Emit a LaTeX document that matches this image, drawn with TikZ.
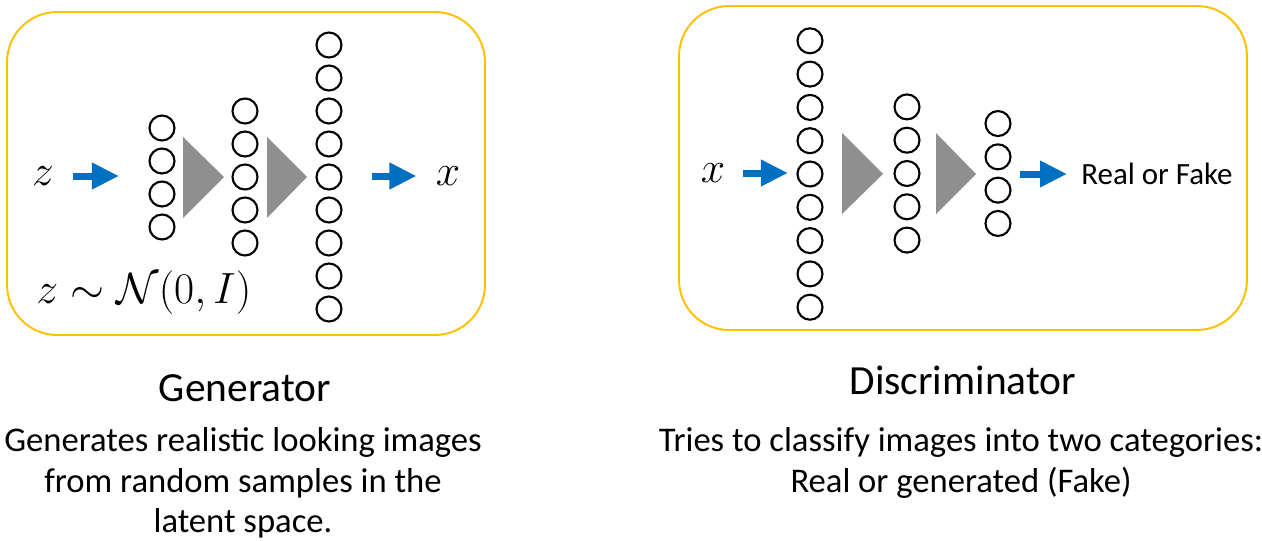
\documentclass[tikz,border=0pt]{standalone}
\usepackage{amsmath}
\usepackage{fontspec}
\setmainfont{Carlito}
\usepackage{xcolor}
\usetikzlibrary{arrows.meta}
\usetikzlibrary{positioning}
\definecolor{myblue}{HTML}{0070C0}
\definecolor{mygold}{HTML}{FFC000}
\definecolor{mygray}{HTML}{8F8F8F}
\tikzset{
  myneuron/.style={
    draw=black,
    shape=circle,
    line width=1.2pt,
    inner sep=0pt,
    minimum size=0.5cm,
  },
  mypanel/.style={
    draw=mygold,
    shape=rectangle,
    line width=1.1pt,
    rounded corners=1cm,
    inner sep=0pt,
  },
  myarrow/.style={
    draw=myblue,
    line width=0.14cm,
    -{Triangle[length=0.54cm,width=0.5cm]},
  },
  mylayer/.style={
    fill=mygray,
  },
  mymath/.style={
    inner sep=0pt,
    font=\fontsize{23.5}{28}\selectfont,
  },
  mytitle/.style={
    inner sep=0pt,
    anchor=base,
    font=\fontsize{23.6}{28}\selectfont,
  },
  mytext/.style={
    inner sep=0pt,
    anchor=north,
    align=center,
    font=\fontsize{19.7}{23.2}\selectfont,
  }
}

\begin{document}
\begin{tikzpicture}[x=0.02cm, y=-0.02cm]
    \useasboundingbox (0,0) rectangle (1262,541);

    % Generator
    \node [mypanel, minimum width=9.56cm, minimum height=6.46cm] (gpanel) at (246,173.5) {};

    \foreach \i in {1,...,4}
      \node [myneuron] (gin\i) at (162, {177.5+(\i-2.5)*33}) {};
    \foreach \i in {1,...,5}
      \node [myneuron] (ghid\i) at (245, {177+(\i-3)*33}) {};
    \foreach \i in {1,...,9}
      \node [myneuron] (gout\i) at (329, {177+(\i-5)*33}) {};

    \fill [mylayer] (183,137) -- (224,177) -- (183,218) -- cycle;
    \fill [mylayer] (267,137) -- (307,177) -- (267,218) -- cycle;

    \node [mymath] (gz) at (43,176) {$z$};
    \node [mymath] (gx) at (448,176) {$x$};
    \node [mymath, anchor=west] (gprior) at (36,293) {$z\sim\mathcal{N}(0,I)$};

    \draw [myarrow, shorten <=0.38cm, shorten >=0.59cm] (gz.east) -- (gz.east -| gin1.west);
    \draw [myarrow, shorten <=0.59cm, shorten >=0.38cm] (gx.west -| gout5.east) -- (gx.west);

    \node [mytitle] (gtitle) at (245,401) {Generator};
    \node [mytext] (gtext) at (243,427) {Generates realistic looking images\\from random samples in the\\latent space.};

    % Discriminator
    \node [mypanel, minimum width=11.36cm, minimum height=6.48cm] (dpanel) at (963,168) {};

    \foreach \i in {1,...,9}
      \node [myneuron] (din\i) at (810, {174+(\i-5)*33.3}) {};
    \foreach \i in {1,...,5}
      \node [myneuron] (dhid\i) at (907, {173.5+(\i-3)*33.3}) {};
    \foreach \i in {1,...,4}
      \node [myneuron] (dout\i) at (998, {173.5+(\i-2.5)*33.3}) {};

    \fill [mylayer] (842,133) -- (883,174) -- (842,214) -- cycle;
    \fill [mylayer] (936,133) -- (976,174) -- (936,214) -- cycle;

    \node [mymath] (dx) at (713,173) {$x$};
    \node [inner sep=0pt, anchor=west, font=\fontsize{17.6}{20}\selectfont] (dlabel) at (1081,174) {Real or Fake};

    \draw [myarrow, shorten <=0.34cm, shorten >=0.17cm] (dx.east) -- (dx.east -| din5.west);
    \draw [myarrow, shorten <=0.17cm, shorten >=0.28cm] (dlabel.west -| dout1.east) -- (dlabel.west);

    \node [mytitle] (dtitle) at (963,394) {Discriminator};
    \node [mytext] (dtext) at (961,427) {Tries to classify images into two categories:\\Real or generated (Fake)};
\end{tikzpicture}
\end{document}
